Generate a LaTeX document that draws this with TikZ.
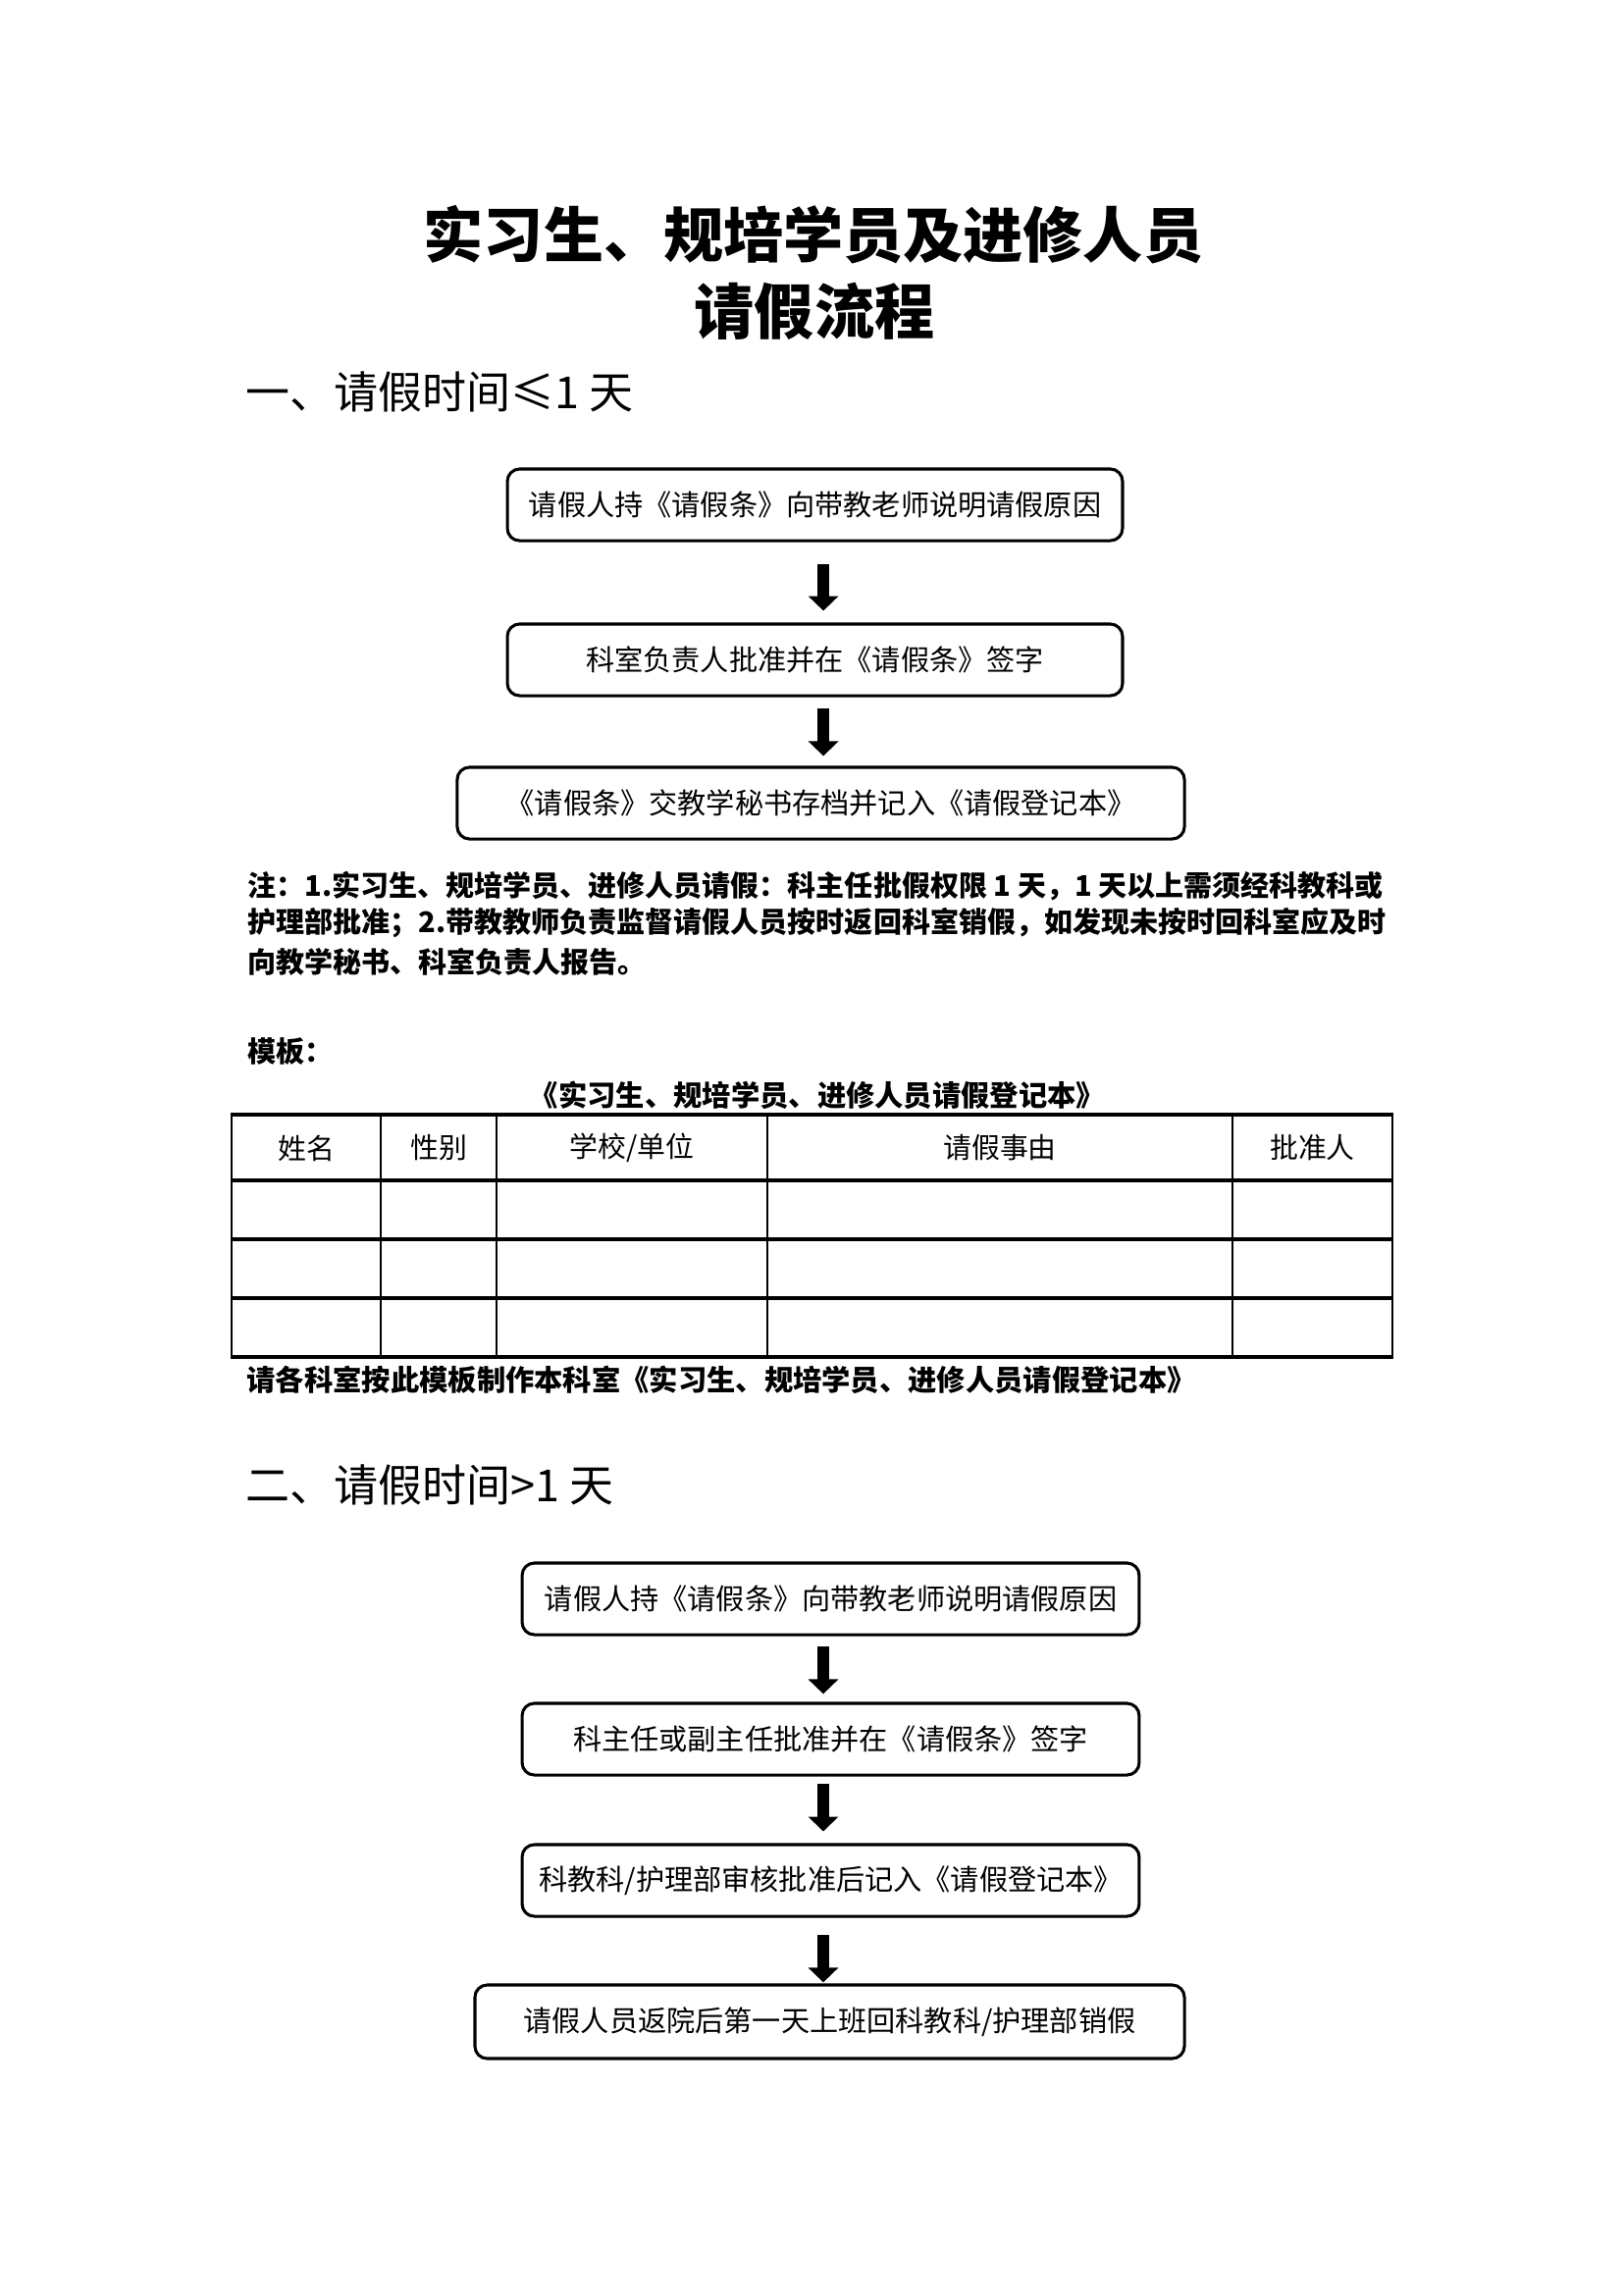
\documentclass[tikz,border=0pt]{standalone}
\usepackage{fontspec}
\setmainfont{Noto Sans CJK SC}
\usetikzlibrary{arrows.meta}
\tikzset{
  flowbox/.style={draw, line width=1.1pt, rounded corners=4.5pt, inner sep=0pt, align=center,
    font=\fontsize{10.5pt}{12pt}\selectfont},
  bigarrow/.style={line width=4.3pt, -{Triangle[width=10.8pt,length=5.4pt]}},
  notetext/.style={anchor=west, inner sep=0pt, font=\fontsize{10.45pt}{12pt}\selectfont\bfseries},
  foottext/.style={anchor=west, inner sep=0pt, font=\fontsize{10.55pt}{12pt}\selectfont\bfseries},
  heading/.style={anchor=west, inner sep=0pt, font=\fontsize{16.2pt}{18pt}\selectfont},
  titletext/.style={inner sep=0pt, font=\fontsize{22pt}{24pt}\selectfont\bfseries},
  thead/.style={inner sep=0pt, font=\fontsize{10.4pt}{12pt}\selectfont},
  hline/.style={line width=1.1pt},
  vline/.style={line width=0.75pt},
}
\begin{document}
\begin{tikzpicture}[x=0.36pt, y=-0.36pt]
\useasboundingbox[fill=white] (0,0) rectangle (1654,2339);

% titles
\node[titletext] (t1) at (829,239) {实习生、规培学员及进修人员};
\node[titletext] (t2) at (830,317) {请假流程};
\node[heading] (h1) at (250,399) {一、请假时间≤1 天};

% part 1 flow
\node[flowbox, minimum width=225.7pt, minimum height=26.3pt] (a1) at (830.5,514.5) {请假人持《请假条》向带教老师说明请假原因};
\node[flowbox, minimum width=225.7pt, minimum height=26.3pt] (a2) at (830.5,672.5) {科室负责人批准并在《请假条》签字};
\node[flowbox, minimum width=266.8pt, minimum height=26.3pt] (a3) at (836.5,818.5) {《请假条》交教学秘书存档并记入《请假登记本》};
\draw[bigarrow, shorten <=7.9pt, shorten >=4.3pt] ([xshift=3.1pt]a1.south) -- ([xshift=3.1pt]a2.north);
\draw[bigarrow, shorten <=4pt, shorten >=3.6pt] ([xshift=3.1pt]a2.south) -- ([xshift=3.1pt]a2.south |- a3.north);

% note
\node[notetext] (n1) at (252,903) {注：1.实习生、规培学员、进修人员请假：科主任批假权限 1 天，1 天以上需须经科教科或};
\node[notetext] (n2) at (252,941) {护理部批准；2.带教教师负责监督请假人员按时返回科室销假，如发现未按时回科室应及时};
\node[notetext] (n3) at (252,980) {向教学秘书、科室负责人报告。};
\node[notetext] (m1) at (252,1072) {模板：};
\node[foottext, anchor=center] (tt) at (833,1116) {《实习生、规培学员、进修人员请假登记本》};

% table
\foreach \yy in {1136,1203,1263,1323,1383} \draw[hline] (235,\yy) -- (1420,\yy);
\foreach \xx in {236,388,506,782,1256,1419} \draw[vline] (\xx,1136) -- (\xx,1383);
\node[thead] (c1) at (312,1170) {姓名};
\node[thead] (c2) at (447,1170) {性别};
\node[thead] (c3) at (644,1170) {学校/单位};
\node[thead] (c4) at (1019,1170) {请假事由};
\node[thead] (c5) at (1337.5,1170) {批准人};
\node[foottext] (ft) at (251,1406) {请各科室按此模板制作本科室《实习生、规培学员、进修人员请假登记本》};

% part 2
\node[heading] (h2) at (250,1513) {二、请假时间>1 天};
\node[flowbox, minimum width=226.4pt, minimum height=26.3pt] (b1) at (846.5,1629.5) {请假人持《请假条》向带教老师说明请假原因};
\node[flowbox, minimum width=226.4pt, minimum height=26.3pt] (b2) at (846.5,1772.5) {科主任或副主任批准并在《请假条》签字};
\node[flowbox, minimum width=226.4pt, minimum height=26.3pt] (b3) at (846.5,1916.5) {科教科/护理部审核批准后记入《请假登记本》};
\node[flowbox, minimum width=260.3pt, minimum height=27pt] (b4) at (845.5,2060.5) {请假人员返院后第一天上班回科教科/护理部销假};
\draw[bigarrow, shorten <=3.6pt, shorten >=2.9pt] ([xshift=-2.7pt]b1.south) -- ([xshift=-2.7pt]b2.north);
\draw[bigarrow, shorten <=2.5pt, shorten >=4.3pt] ([xshift=-2.7pt]b2.south) -- ([xshift=-2.7pt]b3.north);
\draw[bigarrow, shorten <=6.1pt, shorten >=0.4pt] ([xshift=-2.7pt]b3.south) -- ([xshift=-2.7pt]b3.south |- b4.north);
\end{tikzpicture}
\end{document}
